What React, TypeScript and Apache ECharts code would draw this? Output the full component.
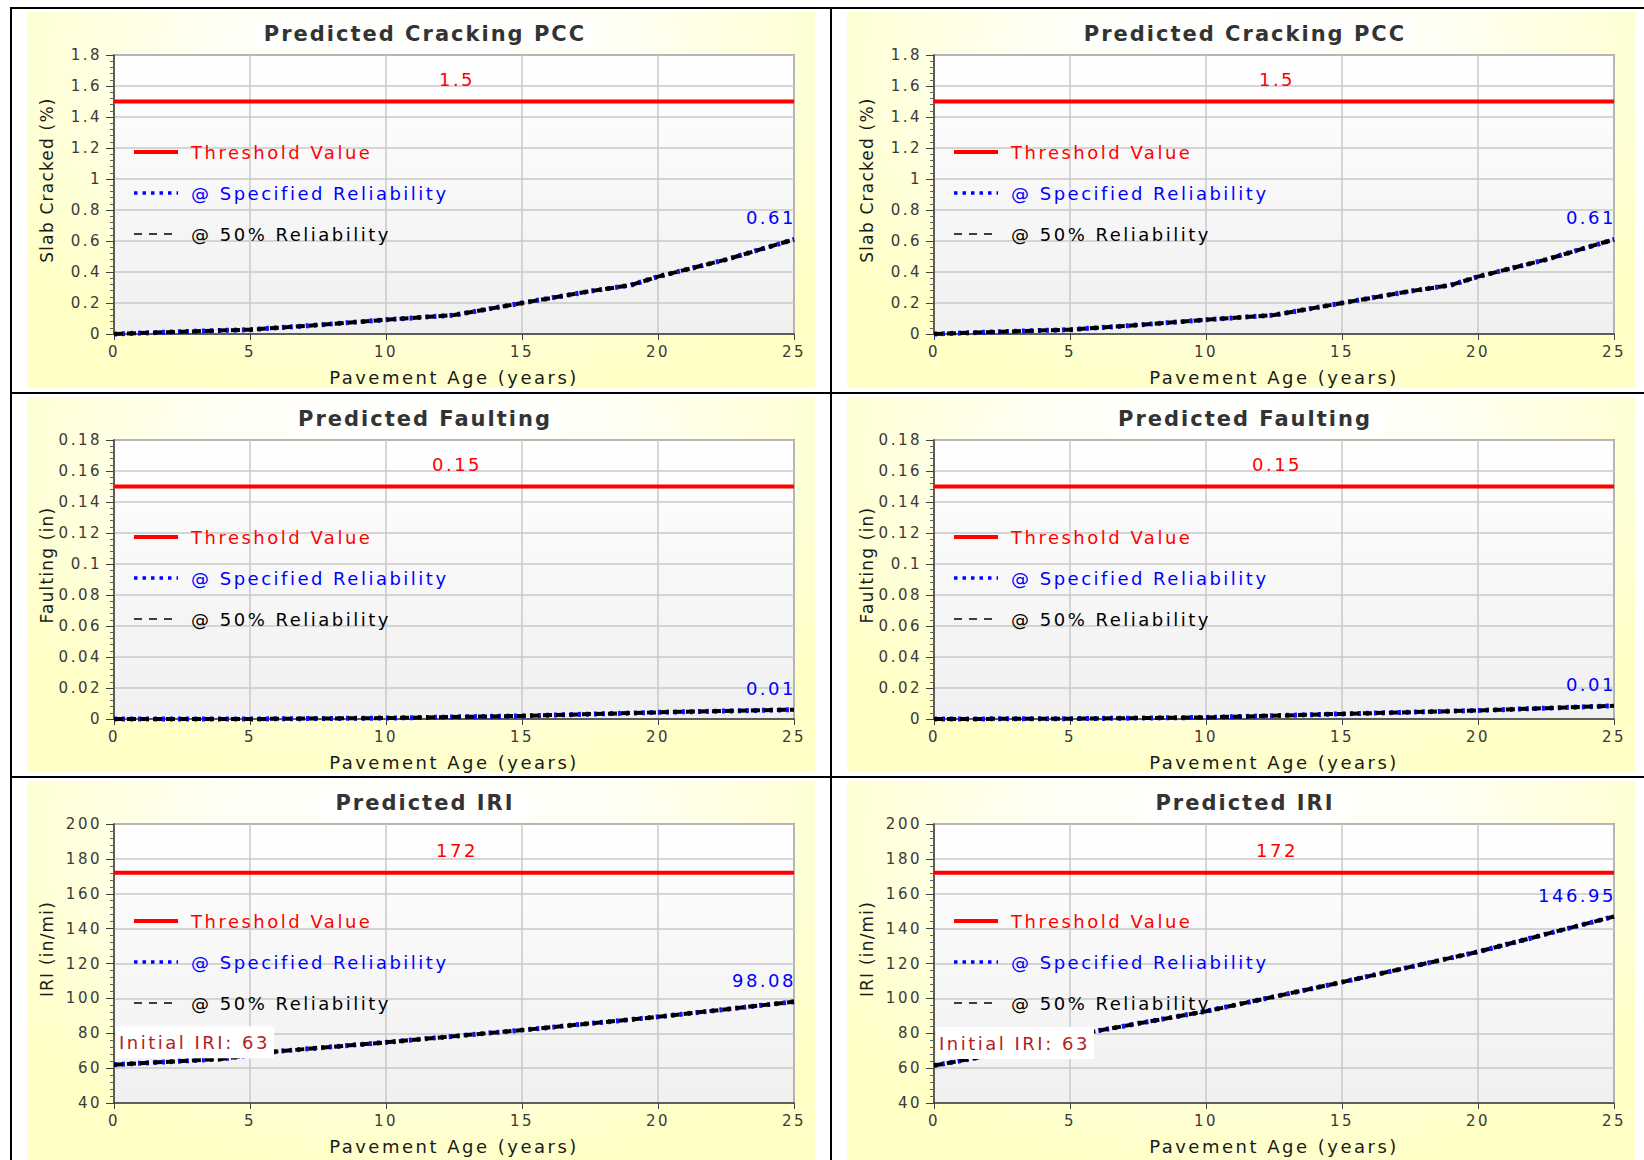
import React, { useEffect, useRef } from 'react';
import * as echarts from 'echarts';

const FONT = 'DejaVu Sans';
const FONT_NAME = 'Bitstream Vera Sans, DejaVu Sans';

// x axis (shared)
const X_MIN = 0;
const X_MAX = 25;
const X_STEP = 5;
const X_NAME = 'Pavement Age (years)';

// legend names
const NAME_THRESHOLD = 'Threshold Value';
const NAME_SPECIFIED = '@ Specified Reliability';
const NAME_MEDIAN = '@ 50% Reliability';

// Cracking
const crackTitle = 'Predicted Cracking PCC';
const crackAxisName = 'Slab Cracked (%)';
const crackYMin = 0;
const crackYMax = 1.8;
const crackYStep = 0.2;
const crackThreshold = 1.5;
const crackYearsLeft = [0, 2.5, 5, 7.5, 10, 12.5, 15, 17.5, 19, 20, 22.5, 25];
const crackValuesLeft = [0, 0.015, 0.028, 0.058, 0.092, 0.122, 0.2, 0.276, 0.315, 0.37, 0.48, 0.61];
const crackYearsRight = [0, 2.5, 5, 7.5, 10, 12.5, 15, 17.5, 19, 20, 22.5, 25];
const crackValuesRight = [0, 0.015, 0.028, 0.058, 0.092, 0.122, 0.2, 0.276, 0.315, 0.37, 0.48, 0.61];

// Faulting
const faultTitle = 'Predicted Faulting';
const faultAxisName = 'Faulting (in)';
const faultYMin = 0;
const faultYMax = 0.18;
const faultYStep = 0.02;
const faultThreshold = 0.15;
const faultYearsLeft = [0, 5, 10, 15, 20, 25];
const faultValuesLeft = [0, 0, 0.0006, 0.002, 0.0043, 0.006];
const faultYearsRight = [0, 5, 10, 15, 20, 25];
const faultValuesRight = [0, 0.0002, 0.001, 0.0033, 0.0055, 0.0085];

// IRI
const iriTitle = 'Predicted IRI';
const iriAxisName = 'IRI (in/mi)';
const iriYMin = 40;
const iriYMax = 200;
const iriYStep = 20;
const iriThreshold = 172;
const iriInitial = 63;
const iriYearsLeft = [0, 4, 6, 10, 15, 20, 25];
const iriValuesLeft = [62, 65.3, 69.6, 74.8, 81.8, 89.4, 98.08];
const iriYearsRight = [0, 1.6, 5.8, 10, 15, 20, 25];
const iriValuesRight = [61.5, 66, 80.8, 92.6, 109.3, 126.7, 146.95];

type Spec = {
  title: string;
  axisName: string;
  yMin: number;
  yMax: number;
  yStep: number;
  threshold: number;
  years: number[];
  values: number[];
  initial?: number;
};

const fmt2 = (v: number) => String(Number(v.toFixed(2)));
const NO_SYMBOL_STYLE = { color: 'rgba(0,0,0,0)', borderWidth: 0, borderColor: 'rgba(0,0,0,0)' };

function buildOption(s: Spec) {
  const mid = (X_MIN + X_MAX) / 2;
  const pairs = s.years.map((x, i) => [x, s.values[i]]);
  const hidden = {
    symbol: 'circle',
    symbolSize: 1,
    itemStyle: NO_SYMBOL_STYLE,
  };
  const thresholdData: any[] = [
    [X_MIN, s.threshold],
    {
      value: [mid, s.threshold],
      ...hidden,
      label: {
        show: true,
        position: 'top',
        distance: 13,
        offset: [3, 0],
        color: '#FF0000',
        fontSize: 18,
        lineHeight: 18,
        fontFamily: FONT,
        formatter: () => String(s.threshold),
      },
    },
    [X_MAX, s.threshold],
  ];
  const specData: any[] = pairs.map((p, i) =>
    i === pairs.length - 1
      ? {
          value: p,
          ...hidden,
          label: {
            show: true,
            position: 'top',
            align: 'right',
            distance: 12,
            offset: [2, 0],
            color: '#0000FF',
            fontSize: 18,
            lineHeight: 18,
            fontFamily: FONT,
            formatter: (pp: any) => fmt2(pp.value[1]),
          },
        }
      : p
  );
  const medData: any[] = pairs.map((p, i) =>
    i === 0 && s.initial != null
      ? {
          value: p,
          ...hidden,
          label: {
            show: true,
            position: 'top',
            align: 'left',
            distance: 6,
            offset: [2, 0],
            width: 152,
            overflow: 'none',
            backgroundColor: '#FFFFFF',
            padding: [4, 3, 4, 3],
            lineHeight: 24,
            color: '#B22222',
            fontSize: 18,
            fontFamily: FONT,
            formatter: () => `Initial IRI: ${s.initial}`,
          },
        }
      : p
  );

  return {
    animation: false,
    backgroundColor: 'transparent',
    title: {
      text: s.title,
      left: 'center',
      top: 10,
      padding: [4, 30],
      backgroundColor: 'rgba(255,255,255,0.75)',
      textStyle: { fontSize: 21, fontWeight: 'bold', color: '#333333', fontFamily: FONT },
    },
    legend: {
      orient: 'vertical',
      left: 115,
      top: 129,
      itemWidth: 44,
      itemHeight: 14,
      itemGap: 23,
      selectedMode: false,
      textStyle: { fontSize: 18, fontFamily: FONT, padding: [0, 0, 0, 8] },
      data: [
        {
          name: NAME_THRESHOLD,
          textStyle: { color: '#FF0000' },
          itemStyle: NO_SYMBOL_STYLE,
          lineStyle: { width: 4, color: '#FF0000', type: 'solid' },
        },
        {
          name: NAME_SPECIFIED,
          textStyle: { color: '#0000FF' },
          itemStyle: NO_SYMBOL_STYLE,
          lineStyle: { width: 3.5, color: '#0000FF', type: [3.5, 5] },
        },
        {
          name: NAME_MEDIAN,
          textStyle: { color: '#000000' },
          itemStyle: NO_SYMBOL_STYLE,
          lineStyle: { width: 1.5, color: '#000000', type: [8, 7] },
        },
      ],
    },
    grid: {
      left: 102,
      top: 46,
      width: 680,
      height: 279,
      show: true,
      borderColor: '#505050',
      borderWidth: 1.5,
      backgroundColor: new echarts.graphic.LinearGradient(0, 0, 0, 1, [
        { offset: 0, color: '#FFFFFF' },
        { offset: 1, color: '#F0F0F0' },
      ]),
    },
    xAxis: {
      type: 'value',
      min: X_MIN,
      max: X_MAX,
      interval: X_STEP,
      name: X_NAME,
      nameLocation: 'middle',
      nameGap: 34,
      nameTextStyle: { fontSize: 18, color: '#1A1A1A', fontFamily: FONT },
      axisLine: { show: true, onZero: false, lineStyle: { color: '#404040', width: 1.5 } },
      axisTick: { show: true, length: 6, lineStyle: { color: '#404040' } },
      axisLabel: { fontSize: 15, color: '#3A3A3A', margin: 10, fontFamily: FONT },
      splitLine: { show: true, lineStyle: { color: '#C8C8C8', width: 1.5 } },
    },
    yAxis: {
      type: 'value',
      min: s.yMin,
      max: s.yMax,
      interval: s.yStep,
      axisLine: { show: true, lineStyle: { color: '#404040', width: 1.5 } },
      axisTick: { show: true, length: 8, lineStyle: { color: '#404040' } },
      minorTick: { show: true, splitNumber: 5, length: 4, lineStyle: { color: '#606060' } },
      axisLabel: { fontSize: 15, color: '#3A3A3A', margin: 12, fontFamily: FONT },
      splitLine: { show: true, lineStyle: { color: '#C8C8C8', width: 1.5 } },
    },
    graphic: [
      {
        type: 'text',
        x: 35,
        y: 171,
        rotation: Math.PI / 2,
        silent: true,
        style: {
          text: s.axisName,
          fontSize: 17,
          fontFamily: FONT_NAME,
          fill: '#1A1A1A',
          align: 'center',
          verticalAlign: 'middle',
          textAlign: 'center',
          textVerticalAlign: 'middle',
        },
      },
    ],
    series: [
      {
        name: NAME_THRESHOLD,
        type: 'line',
        symbol: 'none',
        clip: false,
        silent: true,
        data: thresholdData,
        lineStyle: { color: '#FF0000', width: 4 },
        itemStyle: { color: '#FF0000' },
        z: 2,
      },
      {
        name: NAME_SPECIFIED,
        type: 'line',
        symbol: 'none',
        clip: false,
        silent: true,
        data: specData,
        lineStyle: { color: '#1010FF', width: 5, type: [3, 5] },
        itemStyle: { color: '#0000FF' },
        z: 3,
      },
      {
        name: NAME_MEDIAN,
        type: 'line',
        symbol: 'none',
        clip: false,
        silent: true,
        data: medData,
        lineStyle: { color: '#000000', width: 4, type: [9, 4] },
        itemStyle: { color: '#000000' },
        z: 4,
      },
    ],
  };
}

const COL_LEFT = [12, 832];
const ROW_TOP = [9, 394, 778];
const ROW_H = [383, 382, 382];
const CHART_W = 826;

const panels: Spec[][] = [
  [
    { title: crackTitle, axisName: crackAxisName, yMin: crackYMin, yMax: crackYMax, yStep: crackYStep, threshold: crackThreshold, years: crackYearsLeft, values: crackValuesLeft },
    { title: crackTitle, axisName: crackAxisName, yMin: crackYMin, yMax: crackYMax, yStep: crackYStep, threshold: crackThreshold, years: crackYearsRight, values: crackValuesRight },
  ],
  [
    { title: faultTitle, axisName: faultAxisName, yMin: faultYMin, yMax: faultYMax, yStep: faultYStep, threshold: faultThreshold, years: faultYearsLeft, values: faultValuesLeft },
    { title: faultTitle, axisName: faultAxisName, yMin: faultYMin, yMax: faultYMax, yStep: faultYStep, threshold: faultThreshold, years: faultYearsRight, values: faultValuesRight },
  ],
  [
    { title: iriTitle, axisName: iriAxisName, yMin: iriYMin, yMax: iriYMax, yStep: iriYStep, threshold: iriThreshold, years: iriYearsLeft, values: iriValuesLeft, initial: iriInitial },
    { title: iriTitle, axisName: iriAxisName, yMin: iriYMin, yMax: iriYMax, yStep: iriYStep, threshold: iriThreshold, years: iriYearsRight, values: iriValuesRight, initial: iriInitial },
  ],
];

function Panel({ spec, left, top, height }: { spec: Spec; left: number; top: number; height: number }) {
  const ref = useRef<HTMLDivElement>(null);
  useEffect(() => {
    if (!ref.current) return;
    const chart = echarts.init(ref.current, undefined, { renderer: 'svg' });
    chart.setOption(buildOption(spec) as any);
    return () => chart.dispose();
  }, [spec]);
  return (
    <div
      ref={ref}
      className="rc-chart"
      style={{ position: 'absolute', left, top, width: CHART_W, height, zIndex: 2 }}
    />
  );
}

const line = (l: number, t: number, w: number, h: number) => (
  <div style={{ position: 'absolute', left: l, top: t, width: w, height: h, background: '#000', zIndex: 3 }} />
);

export default function App() {
  return (
    <div
      style={{
        position: 'absolute',
        left: 0,
        top: 0,
        width: 1644,
        height: 1160,
        overflow: 'hidden',
        background: '#FFFFFF',
      }}
    >
      <style>{`.rc-chart text{letter-spacing:2.5px}.rc-chart text[style*="bold"]{letter-spacing:2px}.rc-chart text[style*="Bitstream"]{letter-spacing:1.2px}`}</style>
      {ROW_TOP.map((rt, r) =>
        COL_LEFT.map((cl, c) => (
          <div
            key={`bg-${r}-${c}`}
            style={{
              position: 'absolute',
              left: cl + 15,
              top: rt + 3,
              width: 788,
              height: ROW_H[r] - (r === 2 ? 0 : 4) - 3,
              background:
                'radial-gradient(ellipse 62% 88% at 50% 16%, #FFFFFF 0%, #FFFFF6 40%, #FFFFDA 75%, #FFFFC6 100%)',
              zIndex: 1,
            }}
          />
        ))
      )}
      {ROW_TOP.map((rt, r) =>
        COL_LEFT.map((cl, c) => (
          <Panel key={`p-${r}-${c}`} spec={panels[r][c]} left={cl} top={rt} height={ROW_H[r]} />
        ))
      )}
      {line(10, 7, 1634, 2)}
      {line(10, 7, 2, 1153)}
      {line(830, 7, 2, 1153)}
      {line(10, 392, 1634, 2)}
      {line(10, 776, 1634, 2)}
    </div>
  );
}
